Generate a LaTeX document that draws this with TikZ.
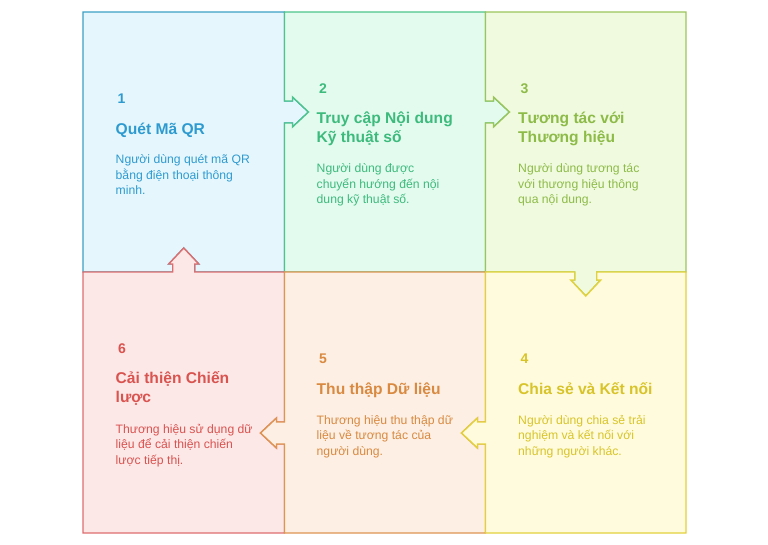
\documentclass[tikz,border=0pt]{standalone}
\usepackage{fontspec}
\setmainfont{Liberation Sans}
\usepackage{tikz}
\usetikzlibrary{positioning}
\definecolor{bluefill}{HTML}{E6F6FD}
\definecolor{blueline}{HTML}{3A9FC4}
\definecolor{bluetext}{HTML}{2E9BD0}
\definecolor{greenfill}{HTML}{E3FAEF}
\definecolor{greenline}{HTML}{4CC48B}
\definecolor{greentext}{HTML}{3DBB7C}
\definecolor{limefill}{HTML}{F0FADF}
\definecolor{limeline}{HTML}{9BC55A}
\definecolor{limetext}{HTML}{8DBB48}
\definecolor{yellowfill}{HTML}{FFFBDC}
\definecolor{yellowline}{HTML}{E2D13C}
\definecolor{yellowtext}{HTML}{D8C42A}
\definecolor{orangefill}{HTML}{FDEFE4}
\definecolor{orangeline}{HTML}{DE9552}
\definecolor{orangetext}{HTML}{D98A40}
\definecolor{redfill}{HTML}{FDE8E8}
\definecolor{redline}{HTML}{DE6E6E}
\definecolor{redtext}{HTML}{D9534F}
\tikzset{
  cell/.style={line width=1.4pt, line join=miter},
  stepnum/.style={anchor=base west, inner sep=0pt, font=\fontsize{14}{16}\selectfont\bfseries},
  steptitle/.style={anchor=base west, inner sep=0pt, align=left, font=\fontsize{15.6}{19}\selectfont\bfseries},
  stepbody/.style={anchor=base west, inner sep=0pt, align=left, font=\fontsize{12.2}{15.5}\selectfont}
}
\begin{document}
\begin{tikzpicture}[x=1pt, y=-1pt]
\useasboundingbox (0,0) rectangle (768,544);

% Cells, drawn in this order so the shared borders get the right colour
\filldraw[cell, fill=bluefill, draw=blueline] (83,12) -- (284.5,12) -- (284.5,101) -- ++(8,0) -- ++(0,-4) -- ++(16,15) -- ++(-16,15) -- ++(0,-4) -- ++(-8,0) -- (284.5,272) -- (194.75,272) -- ++(0,-8) -- ++(4,0) -- ++(-15,-16) -- ++(-15,16) -- ++(4,0) -- ++(0,8) -- (83,272) -- cycle;
\filldraw[cell, fill=greenfill, draw=greenline] (284.5,12) -- (485.5,12) -- (485.5,101) -- ++(8,0) -- ++(0,-4) -- ++(16,15) -- ++(-16,15) -- ++(0,-4) -- ++(-8,0) -- (485.5,272) -- (284.5,272) -- (284.5,123) -- ++(8,0) -- ++(0,4) -- ++(16,-15) -- ++(-16,-15) -- ++(0,4) -- ++(-8,0) -- cycle;
\filldraw[cell, fill=limefill, draw=limeline] (485.5,12) -- (686,12) -- (686,272) -- (596.75,272) -- ++(0,8) -- ++(4,0) -- ++(-15,16) -- ++(-15,-16) -- ++(4,0) -- ++(0,-8) -- (485.5,272) -- (485.5,123) -- ++(8,0) -- ++(0,4) -- ++(16,-15) -- ++(-16,-15) -- ++(0,4) -- ++(-8,0) -- cycle;
\filldraw[cell, fill=redfill, draw=redline] (83,272) -- (172.75,272) -- ++(0,-8) -- ++(-4,0) -- ++(15,-16) -- ++(15,16) -- ++(-4,0) -- ++(0,8) -- (284.5,272) -- (284.5,422) -- ++(-8,0) -- ++(0,-4) -- ++(-16,15) -- ++(16,15) -- ++(0,-4) -- ++(8,0) -- (284.5,533) -- (83,533) -- cycle;
\filldraw[cell, fill=orangefill, draw=orangeline] (284.5,272) -- (485.5,272) -- (485.5,422) -- ++(-8,0) -- ++(0,-4) -- ++(-16,15) -- ++(16,15) -- ++(0,-4) -- ++(8,0) -- (485.5,533) -- (284.5,533) -- (284.5,444) -- ++(-8,0) -- ++(0,4) -- ++(-16,-15) -- ++(16,-15) -- ++(0,4) -- ++(8,0) -- cycle;
\filldraw[cell, fill=yellowfill, draw=yellowline] (485.5,272) -- (574.75,272) -- ++(0,8) -- ++(-4,0) -- ++(15,16) -- ++(15,-16) -- ++(-4,0) -- ++(0,-8) -- (686,272) -- (686,533) -- (485.5,533) -- (485.5,444) -- ++(-8,0) -- ++(0,4) -- ++(-16,-15) -- ++(16,-15) -- ++(0,4) -- ++(8,0) -- cycle;

% Step 1 (multi-line texts sit on the baseline of their last line)
\node (num1) [stepnum, text=bluetext] at (117.5,103.5) {1};
\node (title1) [steptitle, text=bluetext] at (115.5,134) {Quét Mã QR};
\node (body1) [stepbody, text=bluetext] at (115.5,194.5) {Người dùng quét mã QR\\bằng điện thoại thông\\minh.};

% Step 2
\node (num2) [stepnum, text=greentext] at (319,93) {2};
\node (title2) [steptitle, text=greentext] at (316.5,142.3) {Truy cập Nội dung\\Kỹ thuật số};
\node (body2) [stepbody, text=greentext] at (316.5,203.7) {Người dùng được\\chuyển hướng đến nội\\dung kỹ thuật số.};

% Step 3
\node (num3) [stepnum, text=limetext] at (520.5,93) {3};
\node (title3) [steptitle, text=limetext] at (518,142.3) {Tương tác với\\Thương hiệu};
\node (body3) [stepbody, text=limetext] at (518,203.7) {Người dùng tương tác\\với thương hiệu thông\\qua nội dung.};

% Step 4
\node (num4) [stepnum, text=yellowtext] at (520.5,363.5) {4};
\node (title4) [steptitle, text=yellowtext] at (518,394.5) {Chia sẻ và Kết nối};
\node (body4) [stepbody, text=yellowtext] at (518,455) {Người dùng chia sẻ trải\\nghiệm và kết nối với\\những người khác.};

% Step 5
\node (num5) [stepnum, text=orangetext] at (319,363.5) {5};
\node (title5) [steptitle, text=orangetext] at (316.5,394.5) {Thu thập Dữ liệu};
\node (body5) [stepbody, text=orangetext] at (316.5,455) {Thương hiệu thu thập dữ\\liệu về tương tác của\\người dùng.};

% Step 6
\node (num6) [stepnum, text=redtext] at (118,353.5) {6};
\node (title6) [steptitle, text=redtext] at (115.5,402.8) {Cải thiện Chiến\\lược};
\node (body6) [stepbody, text=redtext] at (115.5,464.2) {Thương hiệu sử dụng dữ\\liệu để cải thiện chiến\\lược tiếp thị.};

\end{tikzpicture}
\end{document}
